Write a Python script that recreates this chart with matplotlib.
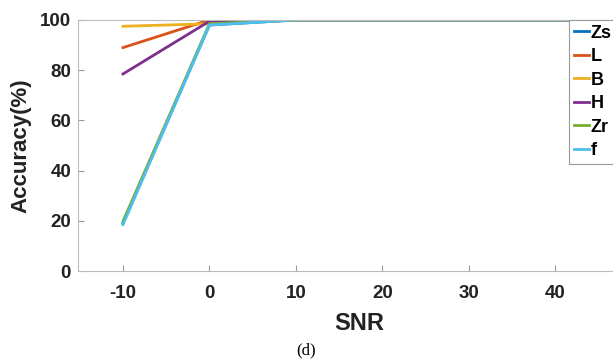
import matplotlib as mpl
mpl.use("Agg")
import matplotlib.pyplot as plt

mpl.rcParams.update({"font.family": "Liberation Sans", "font.weight": "bold",
                     "axes.unicode_minus": False})

# ── Data ──────────────────────────────────────────────────────────────────────
snr = [-10, 0, 10, 20, 30, 40, 50]
snr_ticks = [-10, 0, 10, 20, 30, 40]
acc_zs = [19.0, 98.0, 100, 100, 100, 100, 100]
acc_l = [89.0, 100, 100, 100, 100, 100, 100]
acc_b = [97.5, 98.5, 100, 100, 100, 100, 100]
acc_h = [78.5, 99.5, 100, 100, 100, 100, 100]
acc_zr = [19.8, 98.5, 100, 100, 100, 100, 100]
acc_f = [18.5, 98.0, 100, 100, 100, 100, 100]
labels = ["Zs", "L", "B", "H", "Zr", "f"]
colors = ["#0072BD", "#D95319", "#EDB120", "#7E2F8E", "#77AC30", "#4DBEEE"]

fig = plt.figure(figsize=(6.13, 3.64), dpi=100)
# axes runs past the right edge of the figure, like the cropped original
ax = fig.add_axes([78 / 613, 93 / 364, 562 / 613, 251 / 364])

for ys, lab, c in zip([acc_zs, acc_l, acc_b, acc_h, acc_zr, acc_f], labels, colors):
    ax.plot(snr, ys, color=c, lw=2, label=lab)

ax.set_xlim(-15.2, 49.8)
ax.set_ylim(0, 100)
ax.set_xticks(snr_ticks)
ax.set_yticks([0, 20, 40, 60, 80, 100])
ax.tick_params(direction="in", length=4, color="#999999", labelsize=13.5)
ax.tick_params(axis="x", pad=10)
ax.tick_params(axis="y", pad=5)
for lbl in ax.get_xticklabels() + ax.get_yticklabels():
    lbl.set_fontweight("bold")
    lbl.set_color("#222222")
for side in ["left", "bottom", "top"]:
    ax.spines[side].set_color("#bbbbbb")
ax.spines["right"].set_visible(False)

ax.set_xlabel("SNR", fontsize=17, fontweight="bold", color="#222222", labelpad=7)
ax.set_ylabel("Accuracy(%)", fontsize=16, fontweight="bold", color="#222222", labelpad=6)

leg = ax.legend(loc="upper left", bbox_to_anchor=(569 / 613, 1 - 20 / 364),
                bbox_transform=fig.transFigure, fontsize=13, frameon=True,
                fancybox=False, handlelength=0.85, handletextpad=0.1,
                labelspacing=0.36, borderpad=0.25, borderaxespad=0,
                framealpha=1)
leg.get_frame().set_edgecolor("#999999")
leg.get_frame().set_linewidth(0.8)
for t in leg.get_texts():
    t.set_fontweight("bold")

fig.text(0.5, 1 - 350 / 364, "(d)", ha="center", va="center",
         fontsize=12, family="Liberation Serif", fontweight="normal")

fig.savefig("out.png", dpi=100)
